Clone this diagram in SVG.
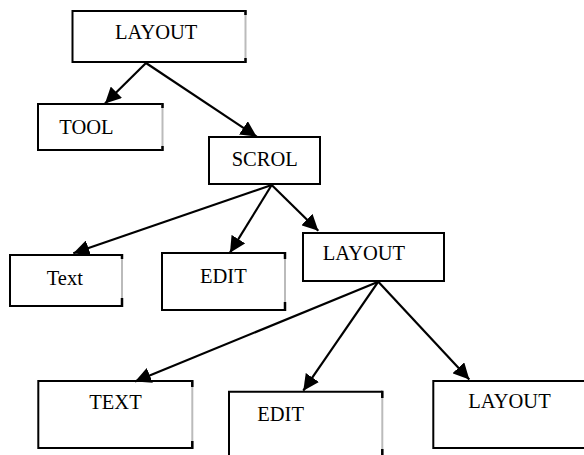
<svg xmlns="http://www.w3.org/2000/svg" width="584" height="455" viewBox="0 0 584 455">
<defs>
<style>
.box{fill:#fff;stroke:#000;stroke-width:2}
.rs{stroke:#bbb;stroke-width:2}
.re{stroke:#000;stroke-width:2.5}
.lbl{font-family:"Liberation Serif","Times New Roman",serif;font-size:20.5px;fill:#000}
.edge{stroke:#000;stroke-width:2.2;fill:none;marker-end:url(#ah)}
</style>
<marker id="ah" markerUnits="userSpaceOnUse" markerWidth="18" markerHeight="16" refX="16" refY="8" orient="auto">
<path d="M0,0 L16,8 L0,16 z" fill="#000"/>
</marker>
</defs>
<rect width="584" height="455" fill="#fff"/>
<g id="n1">
<path class="box" d="M245.5,11 H72.5 V62 H245.5"/>
<line class="rs" x1="245.5" y1="11" x2="245.5" y2="62"/>
<path class="re" d="M245.5,10 V15 M245.5,58 V63"/>
<text class="lbl" x="115" y="39">LAYOUT</text>
</g>
<g id="n2">
<path class="box" d="M162.5,104 H38 V150 H162.5"/>
<line class="rs" x1="162.5" y1="104" x2="162.5" y2="150"/>
<path class="re" d="M162.5,103 V108 M162.5,146 V151"/>
<text class="lbl" x="59.3" y="134">TOOL</text>
</g>
<g id="n3">
<rect class="box" x="209" y="137" width="111" height="47"/>
<text class="lbl" x="231.7" y="165.7">SCROL</text>
</g>
<g id="n4">
<path class="box" d="M122,255 H10 V306 H122"/>
<line class="rs" x1="122" y1="255" x2="122" y2="306"/>
<path class="re" d="M122,254 V259 M122,298 V307"/>
<text class="lbl" x="46.7" y="285">Text</text>
</g>
<g id="n5">
<path class="box" d="M285,253 H162 V310 H285"/>
<line class="rs" x1="285" y1="253" x2="285" y2="310"/>
<path class="re" d="M285,252 V259 M285,302 V311"/>
<text class="lbl" x="200" y="283">EDIT</text>
</g>
<g id="n6">
<rect class="box" x="303" y="233" width="141" height="48"/>
<text class="lbl" x="322.7" y="260">LAYOUT</text>
</g>
<g id="n7">
<path class="box" d="M192.3,381 H38.3 V448 H192.3"/>
<line class="rs" x1="192.3" y1="381" x2="192.3" y2="448"/>
<path class="re" d="M192.3,380 V387 M192.3,441 V449"/>
<text class="lbl" x="89.3" y="409">TEXT</text>
</g>
<g id="n8">
<path class="box" d="M229,460 V391.7 H382.3"/>
<line class="rs" x1="382.3" y1="391.7" x2="382.3" y2="460"/>
<path class="re" d="M382.3,390.7 V398 M382.3,449 V460"/>
<text class="lbl" x="257.3" y="421">EDIT</text>
</g>
<g id="n9">
<rect class="box" x="433.3" y="381" width="170" height="67"/>
<text class="lbl" x="468.3" y="408">LAYOUT</text>
</g>
<g id="edges">
<line class="edge" x1="146" y1="63" x2="105" y2="103.5"/>
<line class="edge" x1="146" y1="63" x2="256.7" y2="136.7"/>
<line class="edge" x1="271.7" y1="185" x2="73.3" y2="253.3"/>
<line class="edge" x1="271.7" y1="185" x2="230" y2="252.7"/>
<line class="edge" x1="271.7" y1="185" x2="318.3" y2="230.7"/>
<line class="edge" x1="378.3" y1="281.7" x2="135" y2="381.5"/>
<line class="edge" x1="378.3" y1="281.7" x2="303.3" y2="390.7"/>
<line class="edge" x1="378.3" y1="281.7" x2="469.3" y2="379.5"/>
</g>
</svg>
